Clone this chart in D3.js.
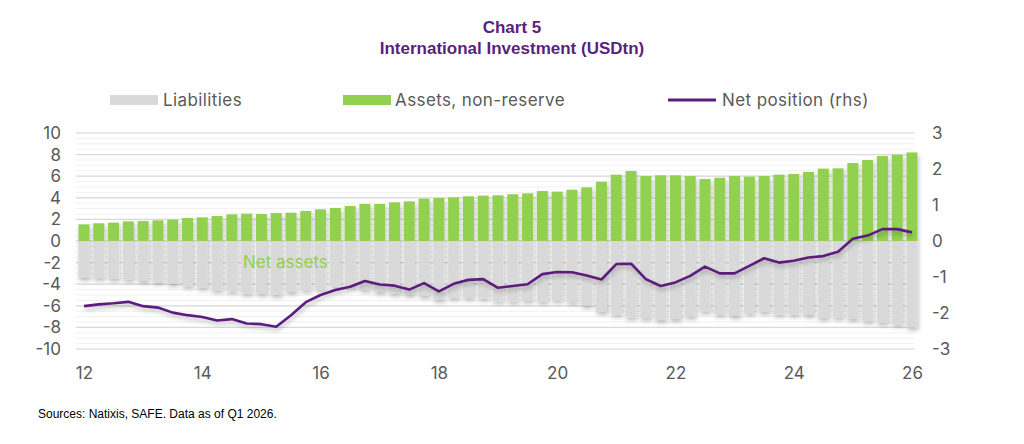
<!DOCTYPE html>
<html>
<head>
<meta charset="utf-8">
<script src="https://cdn.jsdelivr.net/npm/d3@7"></script>
<style>
  body { margin: 0; background: #fff; }
  text { font-family: Inter, "Open Sans", sans-serif; }
</style>
</head>
<body>
<div id="chart"></div>
<script>
// quarterly, 2012Q1 .. 2026Q1
const assets = [1.54,1.64,1.70,1.82,1.85,1.91,1.98,2.13,2.19,2.31,2.47,2.53,2.50,2.59,2.62,2.78,
  2.93,3.06,3.24,3.43,3.43,3.58,3.67,3.92,3.98,4.04,4.14,4.20,4.23,4.33,4.41,4.63,4.57,4.75,4.97,
  5.49,6.14,6.48,6.02,6.08,6.08,6.02,5.74,5.86,6.02,5.96,6.02,6.14,6.20,6.39,6.70,6.73,7.22,7.50,
  7.87,7.99,8.20];
const liabilities = [-3.40,-3.43,-3.49,-3.55,-3.70,-3.80,-3.95,-4.17,-4.32,-4.57,-4.66,-4.85,-4.88,
  -4.97,-4.72,-4.54,-4.48,-4.23,-4.14,-4.50,-4.72,-4.85,-4.94,-5.09,-5.43,-5.25,-5.25,-5.31,-5.56,
  -5.59,-5.52,-5.59,-5.49,-5.65,-5.96,-6.57,-6.79,-7.07,-7.13,-7.31,-7.22,-6.98,-6.51,-6.79,-6.94,
  -6.67,-6.57,-6.79,-6.79,-6.85,-7.13,-7.07,-7.22,-7.41,-7.56,-7.69,-7.99];
const netPosition = [-1.81,-1.76,-1.73,-1.69,-1.81,-1.85,-1.99,-2.06,-2.11,-2.21,-2.17,-2.29,-2.31,
  -2.38,-2.06,-1.70,-1.50,-1.36,-1.27,-1.11,-1.21,-1.24,-1.35,-1.17,-1.40,-1.19,-1.08,-1.06,-1.30,
  -1.25,-1.20,-0.92,-0.86,-0.87,-0.96,-1.07,-0.64,-0.63,-1.06,-1.25,-1.15,-0.97,-0.71,-0.90,-0.90,
  -0.69,-0.48,-0.60,-0.55,-0.46,-0.42,-0.30,0.06,0.15,0.33,0.33,0.24];
const xTicks = [12,14,16,18,20,22,24,26];
const leftTicks = [-10,-8,-6,-4,-2,0,2,4,6,8,10];
const rightTicks = [-3,-2,-1,0,1,2,3];

const width = 1024, height = 444;
const svg = d3.select('#chart').append('svg')
  .attr('width', width).attr('height', height);

const x = d3.scaleLinear().domain([12, 26]).range([84, 912]);
const y = d3.scaleLinear().domain([-10, 10]).range([349, 133]);
const y2 = d3.scaleLinear().domain([-3, 3]).range([349, 133]);
const xq = i => x(12 + i / 4);
const barW = 11;
const fmt = d => String(d); // plain hyphen minus, no decimals

// shadow for bars/line
const defs = svg.append('defs');
const f = defs.append('filter').attr('id', 'sh').attr('x', '-20%').attr('y', '-20%')
  .attr('width', '140%').attr('height', '140%');
f.append('feDropShadow').attr('dx', 1).attr('dy', 3).attr('stdDeviation', 2)
  .attr('flood-color', '#000').attr('flood-opacity', 0.25);

// title
svg.append('text').attr('x', 512).attr('y', 33).attr('text-anchor', 'middle')
  .style('font-family', 'Liberation Sans, Arial').style('font-weight', 'bold')
  .style('font-size', '17px').attr('fill', '#5b1f7d').text('Chart 5');
svg.append('text').attr('x', 512).attr('y', 54).attr('text-anchor', 'middle')
  .style('font-family', 'Liberation Sans, Arial').style('font-weight', 'bold')
  .style('font-size', '17px').attr('fill', '#5b1f7d').text('International Investment (USDtn)');

// gridlines
const grid = svg.append('g');
grid.selectAll('line.minor').data(d3.range(-10, 10.01, 0.5)).enter().append('line')
  .attr('x1', 76).attr('x2', 915).attr('y1', d => y(d)).attr('y2', d => y(d))
  .attr('stroke', '#f1f1f1').attr('stroke-width', 1);
grid.selectAll('line.major').data(leftTicks).enter().append('line')
  .attr('x1', 76).attr('x2', 915).attr('y1', d => y(d)).attr('y2', d => y(d))
  .attr('stroke', '#d9d9d9').attr('stroke-width', 1.2);

// bars
const bars = svg.append('g').attr('filter', 'url(#sh)');
bars.selectAll('rect.a').data(assets).enter().append('rect')
  .attr('x', (d, i) => xq(i) - barW / 2).attr('width', barW)
  .attr('y', d => y(d)).attr('height', d => y(0) - y(d)).attr('fill', '#92d050');
bars.selectAll('rect.l').data(liabilities).enter().append('rect')
  .attr('x', (d, i) => xq(i) - barW / 2).attr('width', barW)
  .attr('y', y(0)).attr('height', d => y(d) - y(0)).attr('fill', '#d9d9d9');

svg.append('text').attr('x', 243).attr('y', 268).attr('fill', '#92d050')
  .style('font-size', '17px').text('Net assets');

// net position line
const line = d3.line().x((d, i) => xq(i)).y(d => y2(d));
svg.append('path').datum(netPosition).attr('d', line).attr('fill', 'none')
  .attr('stroke', '#5b1f7d').attr('stroke-width', 2.6).attr('stroke-linejoin', 'round')
  .attr('filter', 'url(#sh)');

// axes
const axL = svg.append('g').attr('transform', 'translate(61,0)')
  .call(d3.axisLeft(y).tickValues(leftTicks).tickFormat(fmt).tickSize(0).tickPadding(0));
const axR = svg.append('g').attr('transform', 'translate(932,0)')
  .call(d3.axisRight(y2).tickValues(rightTicks).tickFormat(fmt).tickSize(0).tickPadding(0));
const axX = svg.append('g').attr('transform', 'translate(0,372)')
  .call(d3.axisBottom(x).tickValues(xTicks).tickFormat(fmt).tickSize(0).tickPadding(0));
[axL, axR, axX].forEach(a => {
  a.select('.domain').remove();
  a.selectAll('text').style('font-family', 'Inter, "Open Sans", sans-serif')
    .style('font-size', '17px').attr('fill', '#595959');
});
axX.selectAll('text').attr('dy', '0.4em');

// legend
const leg = svg.append('g');
leg.append('rect').attr('x', 110).attr('y', 95).attr('width', 48).attr('height', 10).attr('fill', '#d9d9d9');
leg.append('text').attr('x', 163).attr('y', 106).text('Liabilities');
leg.append('rect').attr('x', 343).attr('y', 95).attr('width', 48).attr('height', 10).attr('fill', '#92d050');
leg.append('text').attr('x', 395).attr('y', 106).text('Assets, non-reserve');
leg.append('line').attr('x1', 668).attr('x2', 716).attr('y1', 100).attr('y2', 100)
  .attr('stroke', '#5b1f7d').attr('stroke-width', 3);
leg.append('text').attr('x', 722).attr('y', 106).text('Net position (rhs)');
leg.selectAll('text').style('font-size', '17px').style('letter-spacing', '0.4px').attr('fill', '#595959');

svg.append('text').attr('x', 38).attr('y', 418).style('font-family', 'Liberation Sans, Arial')
  .style('font-size', '12px').attr('fill', '#000').text('Sources: Natixis, SAFE. Data as of Q1 2026.');
</script>
</body>
</html>
